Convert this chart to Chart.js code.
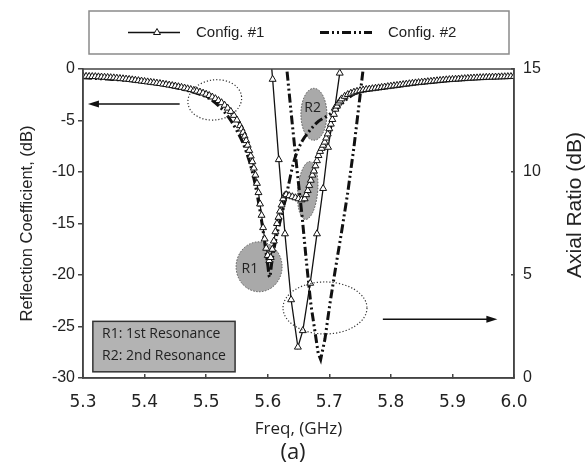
<!DOCTYPE html>
<html>
<head>
<meta charset="utf-8">
<script src="https://cdn.jsdelivr.net/npm/chart.js@4.4.1/dist/chart.umd.min.js"></script>
<style>
    html, body { margin: 0; padding: 0; background: #fff; }
    canvas { display: block; }
</style>
</head>
<body>
<canvas id="reflexion" width="586" height="466"></canvas>
<script>
// Config. #1, Reflexionskoeffizient (dB)
const s11Cfg1Freq = [
    5.300, 5.305, 5.310, 5.315, 5.320, 5.325, 5.330, 5.335, 5.340, 5.345,
    5.350, 5.355, 5.360, 5.365, 5.370, 5.375, 5.380, 5.385, 5.390, 5.395,
    5.400, 5.405, 5.410, 5.415, 5.420, 5.425, 5.430, 5.435, 5.440, 5.445,
    5.450, 5.455, 5.460, 5.465, 5.470, 5.475, 5.480, 5.485, 5.490, 5.495,
    5.500, 5.505, 5.510, 5.515, 5.520, 5.525, 5.530, 5.535, 5.540, 5.545,
    5.550, 5.555, 5.5575, 5.560, 5.5625, 5.565, 5.5675, 5.570, 5.5725, 5.575,
    5.5775, 5.580, 5.5825, 5.585, 5.5875, 5.590, 5.5925, 5.595, 5.5975, 5.600,
    5.6025, 5.605, 5.6075, 5.610, 5.6125, 5.615, 5.6175, 5.620, 5.6225, 5.625,
    5.6275, 5.630, 5.635, 5.640, 5.645, 5.650, 5.655, 5.660, 5.6625, 5.665,
    5.6675, 5.670, 5.6725, 5.675, 5.6775, 5.680, 5.6825, 5.685, 5.6875, 5.690,
    5.6925, 5.695, 5.6975, 5.700, 5.7025, 5.705, 5.7075, 5.710, 5.7125, 5.715,
    5.7175, 5.720, 5.725, 5.730, 5.735, 5.740, 5.745, 5.750, 5.755, 5.760,
    5.765, 5.770, 5.775, 5.780, 5.785, 5.790, 5.795, 5.800, 5.805, 5.810,
    5.815, 5.820, 5.825, 5.830, 5.835, 5.840, 5.845, 5.850, 5.855, 5.860,
    5.865, 5.870, 5.875, 5.880, 5.885, 5.890, 5.895, 5.900, 5.905, 5.910,
    5.915, 5.920, 5.925, 5.930, 5.935, 5.940, 5.945, 5.950, 5.955, 5.960,
    5.965, 5.970, 5.975, 5.980, 5.985, 5.990, 5.995, 6.000,
];
const s11Cfg1 = [
    -0.70, -0.71, -0.72, -0.73, -0.74, -0.76, -0.78, -0.80, -0.82, -0.84,
    -0.86, -0.89, -0.92, -0.95, -0.98, -1.01, -1.05, -1.09, -1.13, -1.17,
    -1.21, -1.25, -1.29, -1.33, -1.37, -1.41, -1.46, -1.51, -1.56, -1.61,
    -1.66, -1.72, -1.78, -1.85, -1.92, -1.99, -2.07, -2.15, -2.24, -2.34,
    -2.45, -2.57, -2.72, -2.88, -3.06, -3.27, -3.52, -3.80, -4.12, -4.50,
    -4.95, -5.50, -5.82, -6.15, -6.52, -6.95, -7.40, -7.90, -8.45, -9.00,
    -9.62, -10.3, -11.1, -12.0, -13.1, -14.2, -15.4, -16.5, -17.4, -18.1,
    -18.6, -18.3, -17.5, -16.7, -15.8, -15.0, -14.4, -13.8, -13.2, -12.6,
    -12.3, -12.2, -12.3, -12.4, -12.5, -12.6, -12.7, -12.6, -12.2, -11.8,
    -11.3, -10.8, -10.3, -9.9, -9.4, -8.9, -8.4, -8.0, -7.7, -7.4,
    -7.1, -6.7, -6.3, -5.8, -5.35, -4.9, -4.4, -3.9, -3.6, -3.3,
    -3.1, -2.9, -2.65, -2.48, -2.35, -2.25, -2.17, -2.10, -2.04, -1.99,
    -1.95, -1.91, -1.87, -1.83, -1.79, -1.75, -1.71, -1.67, -1.63, -1.59,
    -1.55, -1.51, -1.47, -1.43, -1.39, -1.35, -1.32, -1.29, -1.26, -1.23,
    -1.20, -1.17, -1.14, -1.11, -1.08, -1.05, -1.03, -1.01, -0.99, -0.97,
    -0.95, -0.93, -0.91, -0.89, -0.87, -0.86, -0.84, -0.83, -0.81, -0.80,
    -0.79, -0.78, -0.77, -0.76, -0.75, -0.74, -0.73, -0.72,
];

// Config. #2, Reflexionskoeffizient (dB)
const s11Cfg2Freq = [
    5.30, 5.34, 5.38, 5.42, 5.45, 5.47, 5.49, 5.50, 5.51, 5.52,
    5.53, 5.54, 5.55, 5.56, 5.565, 5.57, 5.575, 5.58, 5.585, 5.59,
    5.595, 5.60, 5.603, 5.607, 5.612, 5.618, 5.625, 5.633, 5.641, 5.648,
    5.656, 5.668, 5.68, 5.695, 5.71, 5.72, 5.73, 5.74, 5.75, 5.77,
    5.80, 5.85, 5.90, 5.95, 6.00,
];
const s11Cfg2 = [
    -0.85, -0.98, -1.15, -1.45, -1.80, -2.10, -2.45, -2.70, -3.05, -3.55,
    -4.20, -5.00, -6.00, -7.20, -8.0, -8.9, -10.0, -11.3, -12.9, -14.7,
    -16.8, -19.0, -20.2, -18.6, -16.9, -15.3, -13.6, -11.5, -9.3, -8.0,
    -7.0, -6.0, -5.2, -4.6, -4.0, -3.4, -2.85, -2.45, -2.2, -1.95,
    -1.70, -1.33, -1.05, -0.86, -0.75,
];

// Axial Ratio (dB), Werte ueber 15 liegen ausserhalb der Achse
const arCfg1Freq = [5.598, 5.608, 5.618, 5.628, 5.638, 5.649, 5.657, 5.669, 5.680, 5.690, 5.698, 5.709, 5.717, 5.722];
const arCfg1 = [18.1, 14.5, 10.6, 7.0, 3.8, 1.5, 2.3, 4.6, 7.0, 9.2, 11.2, 13.1, 14.8, 16.5];
const arCfg2Freq = [5.627, 5.631, 5.640, 5.648, 5.656, 5.663, 5.670, 5.677, 5.682, 5.686, 5.693, 5.701, 5.710, 5.720, 5.730, 5.740, 5.748, 5.755, 5.762];
const arCfg2 = [17.0, 15.0, 12.3, 10.0, 7.8, 5.6, 3.6, 2.2, 1.2, 0.9, 1.9, 3.6, 5.3, 7.1, 9.0, 11.2, 13.2, 15.0, 16.8];

const legendLabels = ["Config. #1", "Config. #2"];
const resonanzTexte = ["R1: 1st Resonance", "R2: 2nd Resonance"];

// Markierungen in Achsenkoordinaten (f in GHz, db auf der linken Achse)
const grauFlecken = [
    { f: 5.586, db: -19.2, rx: 23, ry: 25, rot: 0, text: "R1", tf: 5.571, tdb: -19.4 },
    { f: 5.665, db: -11.8, rx: 10, ry: 29, rot: 0.08, text: "" },
    { f: 5.675, db: -4.4, rx: 13, ry: 26, rot: 0, text: "R2", tf: 5.673, tdb: -3.8 },
];
const punktKreise = [
    { f: 5.514, db: -3.0, rx: 27, ry: 20, rot: -0.15 },
    { f: 5.693, db: -23.2, rx: 42, ry: 26, rot: 0 },
];
const pfeile = [
    { f1: 5.457, f2: 5.308, db: -3.4 },
    { f1: 5.787, f2: 5.973, db: -24.3 },
];
const kasten = { f1: 5.316, f2: 5.547, db1: -24.5, db2: -29.4, tf: 5.331, tdb: [-25.75, -27.9] };

const strichPunkt = [9, 3, 2, 3, 2, 3];

function mitPunkten(freq, werte) {
    return freq.map((f, i) => ({ x: f, y: werte[i] }));
}

function dreieck(ctx, x, y, r) {
    ctx.beginPath();
    ctx.moveTo(x, y - r);
    ctx.lineTo(x + r * 0.866, y + r * 0.5);
    ctx.lineTo(x - r * 0.866, y + r * 0.5);
    ctx.closePath();
    ctx.fillStyle = "#fff";
    ctx.fill();
    ctx.stroke();
}

function pfeil(ctx, x1, y, x2) {
    const dir = Math.sign(x2 - x1);
    ctx.beginPath();
    ctx.moveTo(x1, y);
    ctx.lineTo(x2 - dir * 6, y);
    ctx.stroke();
    ctx.beginPath();
    ctx.moveTo(x2, y);
    ctx.lineTo(x2 - dir * 11, y - 3.5);
    ctx.lineTo(x2 - dir * 11, y + 3.5);
    ctx.closePath();
    ctx.fill();
}

const deko = {
    id: "deko",
    beforeDatasetsDraw(chart) {
        const { ctx, scales: { x, y } } = chart;
        ctx.save();
        grauFlecken.forEach((g) => {
            ctx.beginPath();
            ctx.ellipse(x.getPixelForValue(g.f), y.getPixelForValue(g.db), g.rx, g.ry, g.rot, 0, Math.PI * 2);
            ctx.fillStyle = "#a9a9a9";
            ctx.fill();
            ctx.setLineDash([1.5, 1.5]);
            ctx.lineWidth = 1;
            ctx.strokeStyle = "#555";
            ctx.stroke();
            if (g.text) {
                ctx.setLineDash([]);
                ctx.fillStyle = "#222";
                ctx.font = "14px 'Open Sans'";
                ctx.textAlign = "center";
                ctx.textBaseline = "middle";
                ctx.fillText(g.text, x.getPixelForValue(g.tf), y.getPixelForValue(g.tdb));
            }
        });
        ctx.restore();
    },
    afterDraw(chart) {
        const { ctx, chartArea, scales: { x, y } } = chart;
        ctx.save();

        // Rahmen oben
        ctx.strokeStyle = "#444";
        ctx.lineWidth = 1.5;
        ctx.strokeRect(chartArea.left, chartArea.top, chartArea.right - chartArea.left, chartArea.bottom - chartArea.top);

        // gepunktete Ellipsen
        ctx.setLineDash([1.2, 2]);
        ctx.lineWidth = 1.2;
        ctx.strokeStyle = "#333";
        punktKreise.forEach((p) => {
            ctx.beginPath();
            ctx.ellipse(x.getPixelForValue(p.f), y.getPixelForValue(p.db), p.rx, p.ry, p.rot, 0, Math.PI * 2);
            ctx.stroke();
        });
        ctx.setLineDash([]);

        // Pfeile
        ctx.strokeStyle = "#111";
        ctx.fillStyle = "#111";
        ctx.lineWidth = 1.6;
        pfeile.forEach((p) => {
            pfeil(ctx, x.getPixelForValue(p.f1), y.getPixelForValue(p.db), x.getPixelForValue(p.f2));
        });

        // Kasten R1/R2
        const kx1 = x.getPixelForValue(kasten.f1);
        const kx2 = x.getPixelForValue(kasten.f2);
        const ky1 = y.getPixelForValue(kasten.db1);
        const ky2 = y.getPixelForValue(kasten.db2);
        ctx.fillStyle = "#b3b3b3";
        ctx.fillRect(kx1, ky1, kx2 - kx1, ky2 - ky1);
        ctx.strokeStyle = "#333";
        ctx.lineWidth = 1.5;
        ctx.strokeRect(kx1, ky1, kx2 - kx1, ky2 - ky1);
        ctx.fillStyle = "#222";
        ctx.font = "14px 'Open Sans'";
        ctx.textAlign = "left";
        ctx.textBaseline = "middle";
        resonanzTexte.forEach((t, i) => {
            ctx.fillText(t, x.getPixelForValue(kasten.tf), y.getPixelForValue(kasten.tdb[i]));
        });

        // Legende
        ctx.strokeStyle = "#8a8a8a";
        ctx.lineWidth = 1.5;
        ctx.strokeRect(89, 11, 420, 43);
        const ly = 32.5;
        ctx.strokeStyle = "#111";
        ctx.lineWidth = 1.4;
        ctx.beginPath();
        ctx.moveTo(128, ly);
        ctx.lineTo(180, ly);
        ctx.stroke();
        ctx.lineWidth = 1;
        dreieck(ctx, 157, ly, 4);
        ctx.lineWidth = 3;
        ctx.setLineDash(strichPunkt);
        ctx.beginPath();
        ctx.moveTo(320, ly);
        ctx.lineTo(372, ly);
        ctx.stroke();
        ctx.setLineDash([]);
        ctx.fillStyle = "#222";
        ctx.font = "15px 'Liberation Sans'";
        ctx.textAlign = "left";
        ctx.fillText(legendLabels[0], 196, ly);
        ctx.fillText(legendLabels[1], 388, ly);

        // rechte Achsenbeschriftung, von unten nach oben
        ctx.translate(575, 205);
        ctx.rotate(-Math.PI / 2);
        ctx.font = "21px 'Liberation Sans'";
        ctx.textAlign = "center";
        ctx.fillText("Axial Ratio (dB)", 0, 0);
        ctx.restore();
    },
};

const linie = { color: "#444", width: 1.5 };

new Chart(document.getElementById("reflexion"), {
    type: "line",
    data: {
        datasets: [
            {
                label: legendLabels[0],
                data: mitPunkten(s11Cfg1Freq, s11Cfg1),
                yAxisID: "y",
                borderColor: "#111",
                borderWidth: 1.2,
                pointStyle: "triangle",
                pointRadius: 4,
                pointBackgroundColor: "#fff",
                pointBorderColor: "#111",
                pointBorderWidth: 1,
                tension: 0,
            },
            {
                label: legendLabels[0] + " AR",
                data: mitPunkten(arCfg1Freq, arCfg1),
                yAxisID: "y2",
                borderColor: "#111",
                borderWidth: 1.3,
                pointStyle: "triangle",
                pointRadius: (c) => (c.raw && c.raw.y > 15 ? 0 : 4),
                pointBackgroundColor: "#fff",
                pointBorderColor: "#111",
                pointBorderWidth: 1,
                tension: 0,
            },
            {
                label: legendLabels[1],
                data: mitPunkten(s11Cfg2Freq, s11Cfg2),
                yAxisID: "y",
                borderColor: "#111",
                borderWidth: 3,
                borderDash: strichPunkt,
                pointRadius: 0,
                cubicInterpolationMode: "monotone",
            },
            {
                label: legendLabels[1] + " AR",
                data: mitPunkten(arCfg2Freq, arCfg2),
                yAxisID: "y2",
                borderColor: "#111",
                borderWidth: 3,
                borderDash: strichPunkt,
                pointRadius: 0,
                tension: 0,
            },
        ],
    },
    options: {
        responsive: false,
        animation: false,
        color: "#222",
        layout: { padding: { top: 69, left: 0, right: 0, bottom: 0 } },
        plugins: {
            legend: { display: false },
            tooltip: { enabled: false },
            title: {
                display: true,
                text: "(a)",
                position: "bottom",
                color: "#222",
                font: { family: "Open Sans", size: 22, weight: "normal" },
                padding: { top: 0, bottom: 0 },
            },
        },
        scales: {
            x: {
                type: "linear",
                min: 5.3,
                max: 6.0,
                ticks: {
                    stepSize: 0.1,
                    callback: (v) => v.toFixed(1),
                    color: "#222",
                    padding: 18,
                    maxRotation: 0,
                    font: { family: "DejaVu Sans", size: 17 },
                },
                grid: { drawOnChartArea: false, tickLength: -4, color: linie.color, lineWidth: linie.width },
                border: linie,
                title: {
                    display: true,
                    text: "Freq, (GHz)",
                    color: "#222",
                    font: { family: "Open Sans", size: 17 },
                    padding: { top: 0, bottom: 0 },
                },
                afterFit: (s) => { s.height = 61.6; },
            },
            y: {
                position: "left",
                min: -30,
                max: 0,
                ticks: {
                    stepSize: 5,
                    color: "#222",
                    padding: 3,
                    font: { family: "Liberation Sans", size: 16 },
                },
                grid: { drawOnChartArea: false, tickLength: 5, color: linie.color, lineWidth: linie.width },
                border: linie,
                title: {
                    display: true,
                    text: "Reflection Coefficient, (dB)",
                    color: "#222",
                    font: { family: "Liberation Sans", size: 16.5 },
                    padding: { top: 17.6, bottom: 0 },
                },
                afterFit: (s) => { s.width = 83; },
            },
            y2: {
                position: "right",
                min: 0,
                max: 15,
                ticks: {
                    stepSize: 5,
                    color: "#222",
                    padding: 12,
                    font: { family: "Liberation Sans", size: 16 },
                },
                grid: { drawOnChartArea: false, tickLength: -3, color: linie.color, lineWidth: linie.width },
                border: linie,
                afterFit: (s) => { s.width = 72; },
            },
        },
    },
    plugins: [deko],
});
</script>
</body>
</html>
